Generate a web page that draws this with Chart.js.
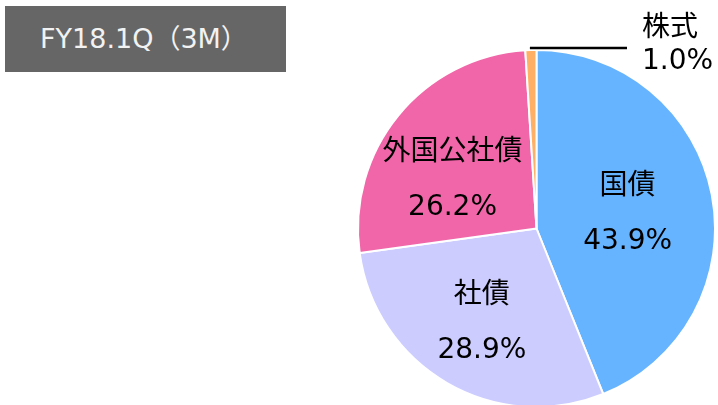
<!DOCTYPE html>
<html lang="ja">
<head>
    <meta charset="UTF-8">
    <title>FY18.1Q（3M）</title>
    <script src="https://cdn.jsdelivr.net/npm/chart.js"></script>
    <style>
        body {
            margin: 0;
            width: 718px;
            height: 405px;
            overflow: hidden;
            background: #fff;
            position: relative;
            font-family: "DejaVu Sans", "Noto Sans CJK JP", sans-serif;
        }
        .title {
            position: absolute;
            left: 5px;
            top: 6px;
            width: 281px;
            height: 66px;
            background: #666666;
            color: #f2f2f2;
            font-size: 27px;
            line-height: 66px;
            padding-left: 35px;
            box-sizing: border-box;
            white-space: nowrap;
        }
        canvas {
            position: absolute;
            left: 0;
            top: 0;
        }
    </style>
</head>
<body>

<div class="title">FY18.1Q（3M）</div>
<canvas id="pie" width="718" height="412"></canvas>

<script>
    // asset allocation, clockwise from 12 o'clock
    const categories = ['国債', '社債', '外国公社債', '株式'];
    const shares = [43.9, 28.9, 26.2, 1.0];

    const sliceColors = ['#66b3ff', '#ccccff', '#f066a8', '#ffb066'];
    // where the inner labels sit: fraction of radius, plus a small pixel nudge
    const labelPlace = [
        { f: 0.52, dx: 0, dy: 3 },
        { f: 0.60, dx: -1, dy: 2 },
        { f: 0.60, dx: -1, dy: 19 },
        null
    ];

    const font = '"DejaVu Sans", "Noto Sans CJK JP", sans-serif';

    const labelPlugin = {
        id: 'sliceLabels',
        afterDatasetsDraw(chart) {
            const ctx = chart.ctx;
            const arcs = chart.getDatasetMeta(0).data;
            ctx.save();
            ctx.fillStyle = '#000';
            ctx.font = '28px ' + font;
            arcs.forEach((arc, i) => {
                const { x, y, startAngle, endAngle, outerRadius } = arc.getProps(['x', 'y', 'startAngle', 'endAngle', 'outerRadius'], true);
                const mid = (startAngle + endAngle) / 2;
                const pct = shares[i].toFixed(1) + '%';
                const place = labelPlace[i];
                if (place) {
                    const cx = x + Math.cos(mid) * outerRadius * place.f + place.dx;
                    const cy = y + Math.sin(mid) * outerRadius * place.f + place.dy;
                    ctx.textAlign = 'center';
                    ctx.textBaseline = 'middle';
                    ctx.fillText(categories[i], cx, cy - 27);
                    ctx.fillText(pct, cx, cy + 28);
                } else {
                    // small slice: leader line out to the right
                    const ex = x + Math.cos(mid) * outerRadius;
                    const ey = y + Math.sin(mid) * outerRadius - 2;
                    ctx.strokeStyle = '#000';
                    ctx.lineWidth = 2.5;
                    ctx.beginPath();
                    ctx.moveTo(ex - 1, ey);
                    ctx.lineTo(627, ey);
                    ctx.stroke();
                    ctx.textAlign = 'left';
                    ctx.textBaseline = 'middle';
                    ctx.fillText(categories[i], 642, 29);
                    ctx.fillText(pct, 642, 62);
                }
            });
            ctx.restore();
        }
    };

    new Chart(document.getElementById('pie'), {
        type: 'pie',
        data: {
            labels: categories,
            datasets: [{
                data: shares,
                backgroundColor: sliceColors,
                borderColor: '#ffffff',
                borderWidth: 2
            }]
        },
        options: {
            responsive: false,
            animation: false,
            layout: { padding: { left: 357, right: 2, top: 49, bottom: 4 } },
            plugins: {
                legend: { display: false },
                tooltip: { enabled: false }
            }
        },
        plugins: [labelPlugin]
    });
</script>

</body>
</html>
